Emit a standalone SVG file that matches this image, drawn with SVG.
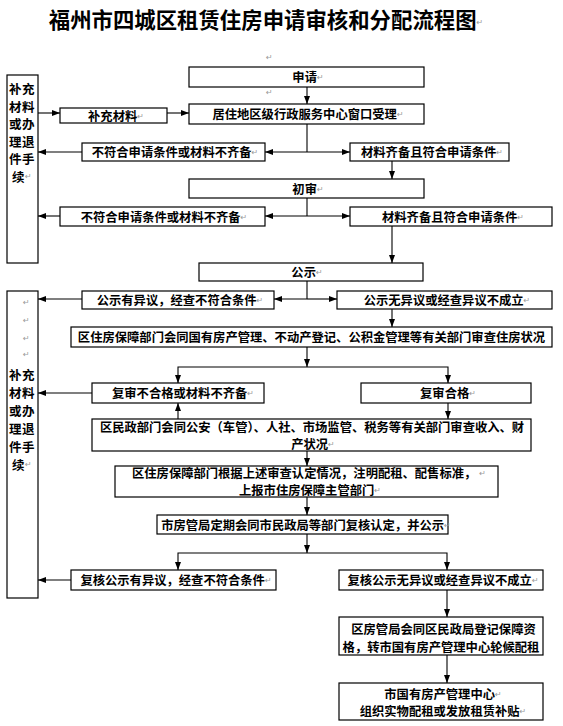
<svg xmlns="http://www.w3.org/2000/svg" width="563" height="726" viewBox="0 0 563 726">
<defs>
<style>
.bx{fill:#fff;stroke:#000;stroke-width:1.2}
.t{font-family:"Noto Sans CJK SC","Liberation Sans",sans-serif;font-size:12.3px;font-weight:bold;fill:#000;text-anchor:middle;dominant-baseline:central}
.lt{font-family:"Noto Sans CJK SC","Liberation Sans",sans-serif;font-size:12.5px;font-weight:bold;fill:#000;text-anchor:middle;dominant-baseline:central;letter-spacing:0.5px}
.ttl{font-family:"Noto Sans CJK SC","Liberation Sans",sans-serif;font-size:21.4px;font-weight:bold;fill:#000;text-anchor:middle;dominant-baseline:central}
.pm{font-family:"DejaVu Sans",sans-serif;font-size:8px;font-weight:normal;fill:#999}
.c path{fill:none;stroke:#000;stroke-width:1.1}
</style>
<marker id="ah" viewBox="0 0 8 6" refX="8" refY="3" markerWidth="8" markerHeight="6" orient="auto" markerUnits="userSpaceOnUse"><path d="M0,0L8,3L0,6z" fill="#000"/></marker>
</defs>
<rect width="563" height="726" fill="#fff"/>
<text class="ttl" x="266" y="18">福州市四城区租赁住房申请审核和分配流程图<tspan class="pm" dy="4">↵</tspan></text>
<text class="pm" x="266" y="60">↵</text>
<text class="pm" x="266" y="95">↵</text>

<g id="left1">
<rect class="bx" x="7" y="75" width="31" height="188"/>
<text class="lt"><tspan x="22" y="88">补充</tspan><tspan x="22" y="105.5">材料</tspan><tspan x="22" y="123">或办</tspan><tspan x="22" y="140.5">理退</tspan><tspan x="22" y="158">件手</tspan><tspan x="22" y="176">续</tspan><tspan class="pm">↵</tspan></text>
</g>
<g id="left2">
<rect class="bx" x="7" y="291" width="31" height="307"/>
<text class="pm"><tspan x="23" y="305">↵</tspan><tspan x="23" y="323">↵</tspan><tspan x="23" y="341">↵</tspan><tspan x="23" y="357">↵</tspan></text>
<text class="lt"><tspan x="22" y="374">补充</tspan><tspan x="22" y="392">材料</tspan><tspan x="22" y="410">或办</tspan><tspan x="22" y="428">理退</tspan><tspan x="22" y="445.5">件手</tspan><tspan x="22" y="463.5">续</tspan><tspan class="pm">↵</tspan></text>
</g>

<g id="apply"><rect class="bx" x="189" y="67" width="235" height="20"/><text class="t" x="308" y="77">申请<tspan class="pm">↵</tspan></text></g>
<g id="supplement"><rect class="bx" x="60" y="108" width="107" height="15"/><text class="t" x="116" y="115.5">补充材料<tspan class="pm">↵</tspan></text></g>
<g id="accept"><rect class="bx" x="189" y="104" width="235" height="20"/><text class="t" x="308" y="114">居住地区级行政服务中心窗口受理<tspan class="pm">↵</tspan></text></g>
<g id="reject1"><rect class="bx" x="82" y="143" width="183" height="18"/><text class="t" x="175" y="152">不符合申请条件或材料不齐备<tspan class="pm">↵</tspan></text></g>
<g id="ok1"><rect class="bx" x="350" y="143" width="159" height="18"/><text class="t" x="432" y="152">材料齐备且符合申请条件<tspan class="pm">↵</tspan></text></g>
<g id="prelim"><rect class="bx" x="189" y="179" width="235" height="19"/><text class="t" x="308" y="188.5">初审<tspan class="pm">↵</tspan></text></g>
<g id="reject2"><rect class="bx" x="60" y="207" width="205" height="19"/><text class="t" x="164" y="216.5">不符合申请条件或材料不齐备<tspan class="pm">↵</tspan></text></g>
<g id="ok2"><rect class="bx" x="350" y="207" width="202" height="19"/><text class="t" x="453" y="216.5">材料齐备且符合申请条件<tspan class="pm">↵</tspan></text></g>
<g id="publicity"><rect class="bx" x="199" y="263" width="224" height="18"/><text class="t" x="307" y="272">公示<tspan class="pm">↵</tspan></text></g>
<g id="objection"><rect class="bx" x="82" y="291" width="192" height="18"/><text class="t" x="180" y="300">公示有异议，经查不符合条件<tspan class="pm">↵</tspan></text></g>
<g id="noobjection"><rect class="bx" x="337" y="291" width="215" height="18"/><text class="t" x="447" y="300">公示无异议或经查异议不成立<tspan class="pm">↵</tspan></text></g>
<g id="housingcheck"><rect class="bx" x="71" y="327" width="481" height="20"/><text class="t" x="311.5" y="337">区住房保障部门会同国有房产管理、不动产登记、公积金管理等有关部门审查住房状况</text></g>
<g id="recheckfail"><rect class="bx" x="92" y="383" width="172" height="20"/><text class="t" x="183" y="393">复审不合格或材料不齐备<tspan class="pm">↵</tspan></text></g>
<g id="recheckpass"><rect class="bx" x="361" y="383" width="170" height="20"/><text class="t" x="448" y="393">复审合格<tspan class="pm">↵</tspan></text></g>
<g id="incomecheck"><rect class="bx" x="92" y="419" width="439" height="32"/><text class="t"><tspan x="312" y="426.5">区民政部门会同公安（车管）、人社、市场监管、税务等有关部门审查收入、财</tspan><tspan x="313" y="443.5">产状况</tspan><tspan class="pm">↵</tspan></text></g>
<g id="report"><rect class="bx" x="115" y="466" width="383" height="31"/><text class="t"><tspan x="309" y="473">区住房保障部门根据上述审查认定情况，注明配租、配售标准，</tspan><tspan class="pm" dx="3">↵</tspan><tspan x="310" y="490">上报市住房保障主管部门</tspan><tspan class="pm">↵</tspan></text></g>
<g id="cityreview"><rect class="bx" x="157" y="515" width="291" height="19"/><text class="t" x="306" y="524.5">市房管局定期会同市民政局等部门复核认定，并公示<tspan class="pm">↵</tspan></text></g>
<g id="reviewobj"><rect class="bx" x="71" y="570" width="205" height="20"/><text class="t" x="176" y="580">复核公示有异议，经查不符合条件<tspan class="pm">↵</tspan></text></g>
<g id="reviewnoobj"><rect class="bx" x="339" y="570" width="204" height="20"/><text class="t" x="443" y="580">复核公示无异议或经查异议不成立<tspan class="pm">↵</tspan></text></g>
<g id="register"><rect class="bx" x="339" y="617" width="204" height="38"/><text class="t"><tspan x="443.5" y="629">区房管局会同区民政局登记保障资</tspan><tspan x="441" y="647">格，转市国有房产管理中心轮候配租</tspan></text></g>
<g id="allocate"><rect class="bx" x="339" y="683" width="204" height="37"/><text class="t"><tspan x="443" y="694">市国有房产管理中心</tspan><tspan class="pm">↵</tspan><tspan x="443" y="711">组织实物配租或发放租赁补贴</tspan><tspan class="pm">↵</tspan></text></g>

<g id="connectors" class="c">
<path d="M307,87V104" marker-end="url(#ah)"/>
<path d="M38,113H60" marker-end="url(#ah)"/>
<path d="M167,113H189" marker-end="url(#ah)"/>
<path d="M307,124V152"/>
<path d="M307,152H265" marker-end="url(#ah)"/>
<path d="M307,152H350" marker-end="url(#ah)"/>
<path d="M82,152H38" marker-end="url(#ah)"/>
<path d="M392,161V179" marker-end="url(#ah)"/>
<path d="M307,198V216"/>
<path d="M307,216H265" marker-end="url(#ah)"/>
<path d="M307,216H350" marker-end="url(#ah)"/>
<path d="M60,216H38" marker-end="url(#ah)"/>
<path d="M392,226V263" marker-end="url(#ah)"/>
<path d="M307,281V299"/>
<path d="M307,299H274" marker-end="url(#ah)"/>
<path d="M307,299H337" marker-end="url(#ah)"/>
<path d="M82,299H38" marker-end="url(#ah)"/>
<path d="M392,309V327" marker-end="url(#ah)"/>
<path d="M307,347V367" marker-end="url(#ah)"/>
<path d="M307,367H178V383" marker-end="url(#ah)"/>
<path d="M307,367H448V383" marker-end="url(#ah)"/>
<path d="M92,393H38" marker-end="url(#ah)"/>
<path d="M178,419V403" marker-end="url(#ah)"/>
<path d="M448,403V419" marker-end="url(#ah)"/>
<path d="M307,451V466" marker-end="url(#ah)"/>
<path d="M307,497V515" marker-end="url(#ah)"/>
<path d="M307,534V553" marker-end="url(#ah)"/>
<path d="M307,553H178V570" marker-end="url(#ah)"/>
<path d="M307,553H447V570" marker-end="url(#ah)"/>
<path d="M71,580H38" marker-end="url(#ah)"/>
<path d="M447,590V617" marker-end="url(#ah)"/>
<path d="M447,655V683" marker-end="url(#ah)"/>
</g>
</svg>
